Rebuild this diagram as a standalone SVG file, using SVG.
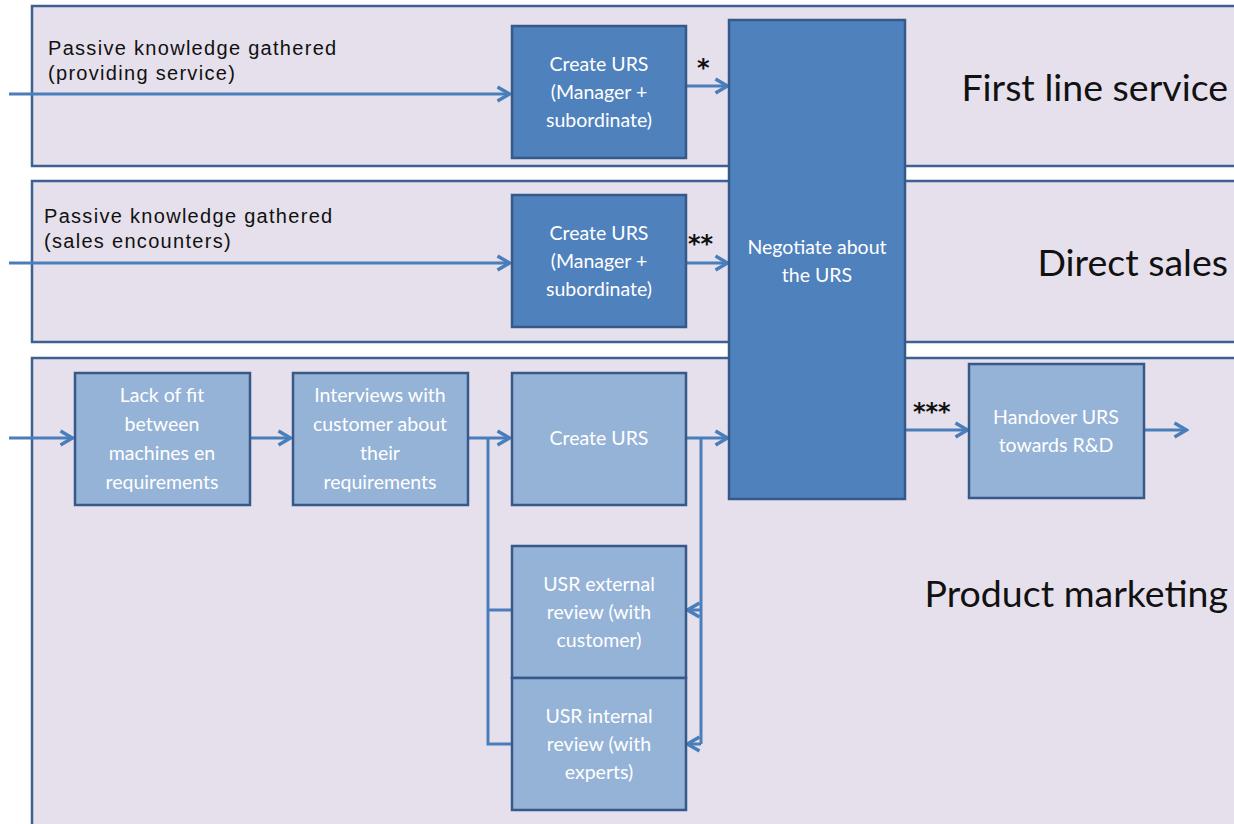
<svg xmlns="http://www.w3.org/2000/svg" width="1234" height="824" viewBox="0 0 1234 824">
  <style>
    .lane { fill: #e5e0ec; stroke: #3d6291; stroke-width: 2.5; }
    .dark { fill: #4f81bd; stroke: #36598a; stroke-width: 2.5; }
    .light { fill: #95b3d7; stroke: #36598a; stroke-width: 2.5; }
    .btxt { font-family: Lato, "Open Sans", sans-serif; font-size: 19.5px; fill: #ffffff; text-anchor: middle; }
    .note { font-family: "Liberation Sans", Arial, sans-serif; font-size: 20px; letter-spacing: 1.3px; fill: #111111; }
    .lanelbl { font-family: Lato, "Open Sans", sans-serif; font-size: 37.5px; fill: #111111; text-anchor: end; }
    .star { font-family: "DejaVu Sans", sans-serif; font-size: 24px; font-weight: bold; fill: #111111; }
    .flow { fill: none; stroke: #4a7ebb; stroke-width: 3; }
    .arr { marker-end: url(#head); }
  </style>
  <defs>
    <marker id="head" viewBox="0 0 16 18" refX="14.5" refY="9" markerWidth="16" markerHeight="18" markerUnits="userSpaceOnUse" orient="auto">
      <path d="M2,2 L14,9 L2,16" fill="none" stroke="#4a7ebb" stroke-width="3.5" stroke-linejoin="miter"/>
    </marker>
  </defs>

  <rect width="1234" height="824" fill="#ffffff"/>

  <!-- swimlanes -->
  <g id="lane-first-line">
    <rect class="lane" x="32" y="6" width="1210" height="160"/>
    <text class="lanelbl" x="1228" y="101">First line service</text>
  </g>
  <g id="lane-direct-sales">
    <rect class="lane" x="32" y="181" width="1210" height="161"/>
    <text class="lanelbl" x="1228" y="276">Direct sales</text>
  </g>
  <g id="lane-product-marketing">
    <rect class="lane" x="32" y="358" width="1210" height="480"/>
    <text class="lanelbl" x="1228" y="607">Product marketing</text>
  </g>

  <!-- connectors -->
  <g id="connectors">
    <line class="flow arr" x1="9" y1="94" x2="510" y2="94"/>
    <line class="flow arr" x1="686" y1="86" x2="728" y2="86"/>
    <line class="flow arr" x1="9" y1="263" x2="510" y2="263"/>
    <line class="flow arr" x1="686" y1="263" x2="728" y2="263"/>
    <line class="flow arr" x1="9" y1="438" x2="73" y2="438"/>
    <line class="flow arr" x1="250" y1="438" x2="291" y2="438"/>
    <line class="flow arr" x1="468" y1="438" x2="510" y2="438"/>
    <line class="flow arr" x1="686" y1="438" x2="728" y2="438"/>
    <line class="flow arr" x1="905" y1="430" x2="968" y2="430"/>
    <line class="flow arr" x1="1144" y1="430" x2="1187" y2="430"/>
    <!-- branch down to the two reviews -->
    <polyline class="flow" points="488,438 488,744 512,744"/>
    <line class="flow" x1="488" y1="610" x2="512" y2="610"/>
    <!-- return from the right side into the reviews -->
    <line class="flow" x1="701" y1="438" x2="701" y2="744"/>
    <line class="flow arr" x1="701" y1="610" x2="687" y2="610"/>
    <line class="flow arr" x1="701" y1="744" x2="687" y2="744"/>
  </g>

  <!-- labels on the flows -->
  <g id="flow-labels">
    <text class="note" x="48" y="55">Passive knowledge gathered</text>
    <text class="note" x="48" y="80">(providing service)</text>
    <text class="note" x="44" y="223">Passive knowledge gathered</text>
    <text class="note" x="44" y="248">(sales encounters)</text>
    <text class="star" x="697" y="76">*</text>
    <text class="star" x="688" y="252">**</text>
    <text class="star" x="913" y="420">***</text>
  </g>

  <!-- process nodes -->
  <g id="create-urs-service">
    <rect class="dark" x="512" y="26" width="174" height="132"/>
    <text class="btxt" x="599" y="71">Create URS</text>
    <text class="btxt" x="599" y="99">(Manager +</text>
    <text class="btxt" x="599" y="127">subordinate)</text>
  </g>
  <g id="create-urs-sales">
    <rect class="dark" x="512" y="195" width="174" height="132"/>
    <text class="btxt" x="599" y="240">Create URS</text>
    <text class="btxt" x="599" y="268">(Manager +</text>
    <text class="btxt" x="599" y="296">subordinate)</text>
  </g>
  <g id="negotiate">
    <rect class="dark" x="729" y="20" width="176" height="479"/>
    <text class="btxt" x="817" y="254">Negotiate about</text>
    <text class="btxt" x="817" y="282">the URS</text>
  </g>
  <g id="lack-of-fit">
    <rect class="light" x="75" y="373" width="175" height="132"/>
    <text class="btxt" x="162" y="402">Lack of fit</text>
    <text class="btxt" x="162" y="431">between</text>
    <text class="btxt" x="162" y="460">machines en</text>
    <text class="btxt" x="162" y="489">requirements</text>
  </g>
  <g id="interviews">
    <rect class="light" x="293" y="373" width="175" height="132"/>
    <text class="btxt" x="380" y="402">Interviews with</text>
    <text class="btxt" x="380" y="431">customer about</text>
    <text class="btxt" x="380" y="460">their</text>
    <text class="btxt" x="380" y="489">requirements</text>
  </g>
  <g id="create-urs-marketing">
    <rect class="light" x="512" y="373" width="174" height="132"/>
    <text class="btxt" x="599" y="445">Create URS</text>
  </g>
  <g id="external-review">
    <rect class="light" x="512" y="546" width="174" height="132"/>
    <text class="btxt" x="599" y="591">USR external</text>
    <text class="btxt" x="599" y="619">review (with</text>
    <text class="btxt" x="599" y="647">customer)</text>
  </g>
  <g id="internal-review">
    <rect class="light" x="512" y="678" width="174" height="132"/>
    <text class="btxt" x="599" y="723">USR internal</text>
    <text class="btxt" x="599" y="751">review (with</text>
    <text class="btxt" x="599" y="779">experts)</text>
  </g>
  <g id="handover">
    <rect class="light" x="969" y="364" width="175" height="134"/>
    <text class="btxt" x="1056" y="424">Handover URS</text>
    <text class="btxt" x="1056" y="452">towards R&amp;D</text>
  </g>
</svg>
